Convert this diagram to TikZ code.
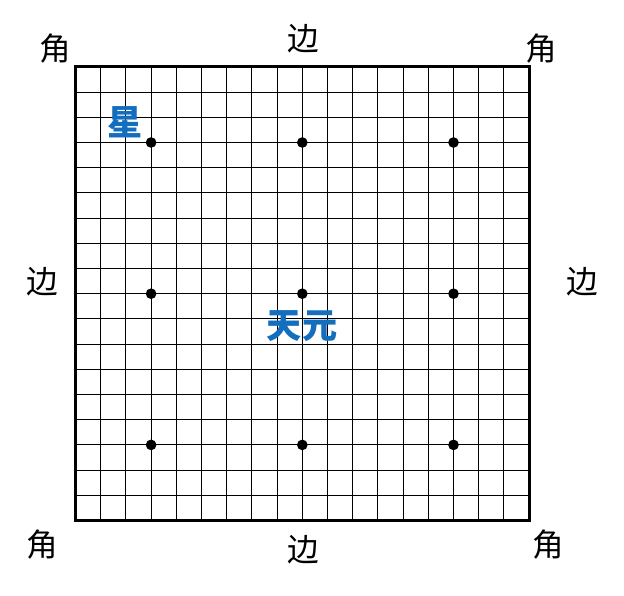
\documentclass[tikz,border=0pt]{standalone}
\usepackage{fontspec}
\newfontfamily\cjk{Noto Sans CJK SC}
\usetikzlibrary{positioning}
\definecolor{starblue}{RGB}{20,110,190}

\begin{document}
\begin{tikzpicture}[
  x=0.03cm, y=0.03cm,
  every node/.style={inner sep=0pt},
  edgelabel/.style={font=\cjk\fontsize{27}{27}\selectfont, text=black},
  pointlabel/.style={font=\cjk\bfseries\fontsize{30}{30}\selectfont, text=starblue},
  gridline/.style={line width=1pt, black},
  boardedge/.style={line width=2.4pt, black},
  stardot/.style={circle, fill=black, minimum size=0.32cm},
]

\useasboundingbox (0,0) rectangle (624,596);

%% Board lines (19 x 19)
\foreach \i in {0,...,18} {
  \draw[gridline] ({75.5+\i*25.2},75.5) -- ++(0,453.6);
  \draw[gridline] (75.5,{75.5+\i*25.2}) -- ++(453.6,0);
}
\draw[boardedge] (75.5,75.5) rectangle (529.1,529.1);

%% Star points
\foreach \i in {3,9,15}
  \foreach \j in {3,9,15}
    \node[stardot] (star-\i-\j) at ({75.5+\i*25.2},{75.5+\j*25.2}) {};

%% Corners
\node[edgelabel] (corner-nw) at (55,547) {角};
\node[edgelabel] (corner-ne) at (541,547) {角};
\node[edgelabel] (corner-sw) at (42,51) {角};
\node[edgelabel] (corner-se) at (548,51) {角};

%% Sides
\node[edgelabel] (side-n) at (303,557) {边};
\node[edgelabel] (side-s) at (303,46) {边};
\node[edgelabel] (side-w) at (42,314) {边};
\node[edgelabel] (side-e) at (582,314) {边};

%% Star and centre
\node[pointlabel] (starname) at (125,474) {星};
\node[pointlabel] (tengen) at (302,270) {天元};

\end{tikzpicture}
\end{document}
